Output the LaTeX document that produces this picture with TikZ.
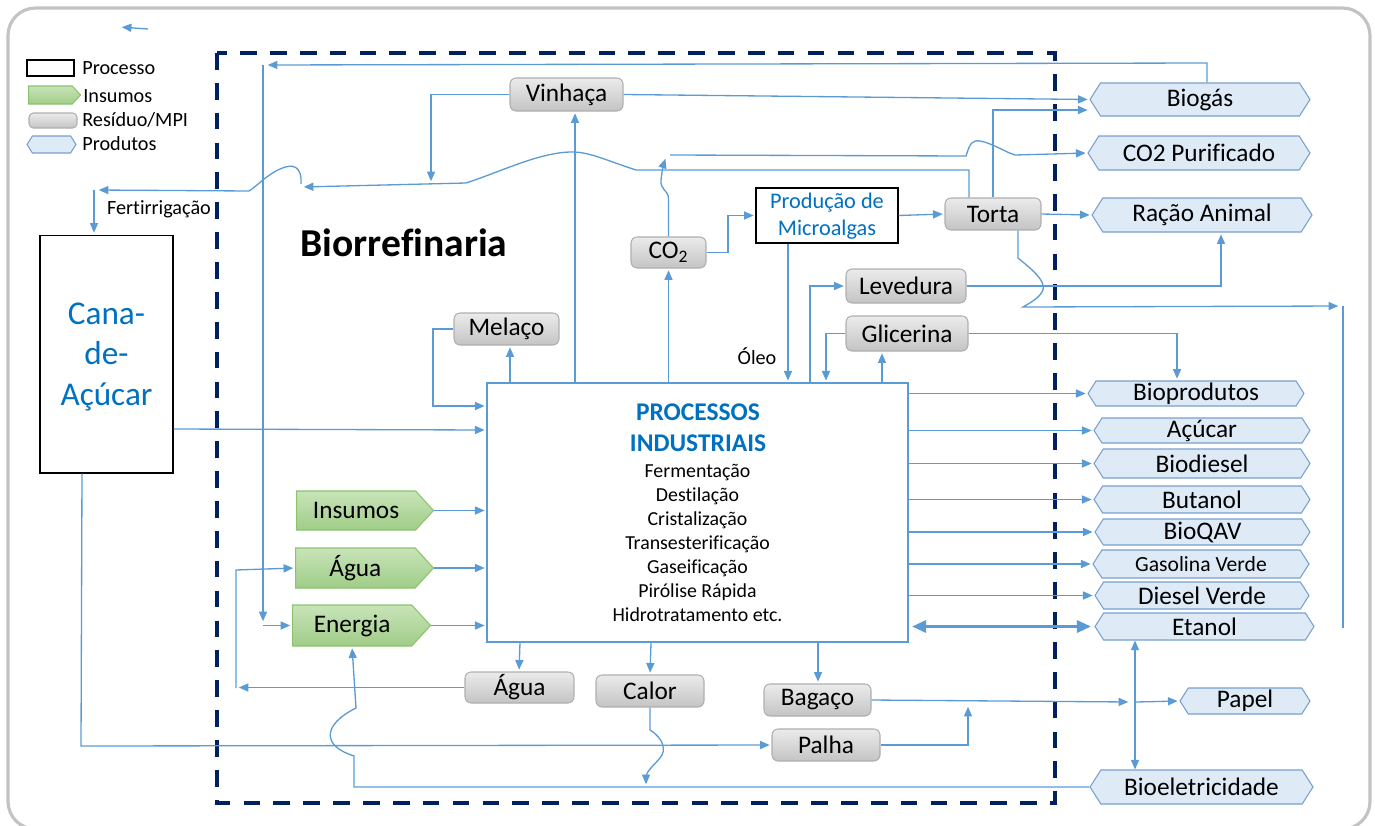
\documentclass[tikz,border=0pt]{standalone}
\usepackage{fontspec}
\setmainfont{Carlito}[Ligatures=NoCommon]
\usetikzlibrary{shapes.symbols,arrows.meta}
\definecolor{conblue}{RGB}{91,155,213}
\definecolor{txtblue}{RGB}{0,112,192}
\definecolor{navyblue}{RGB}{0,32,96}
\definecolor{prodfill}{RGB}{222,235,247}
\definecolor{prodline}{RGB}{120,160,205}
\definecolor{greentop}{RGB}{200,228,185}
\definecolor{greenbot}{RGB}{160,205,135}
\definecolor{greenline}{RGB}{140,195,110}
\definecolor{graytop}{RGB}{235,235,235}
\definecolor{graybot}{RGB}{196,196,196}
\definecolor{grayline}{RGB}{175,175,175}
\definecolor{framegray}{RGB}{195,195,195}
\newcommand\fsz[2]{\fontsize{#1}{#2}\selectfont}
\begin{document}
\begin{tikzpicture}[x=0.02cm,y=-0.02cm,
  con/.style={draw=conblue, line width=0.75pt},
  arr/.style={con, -{Triangle[length=5.5pt,width=4.6pt]}, shorten >=1pt},
  dbl/.style={con, {Triangle[length=5.5pt,width=4.6pt]}-{Triangle[length=5.5pt,width=4.6pt]}},
  dblthick/.style={draw=conblue, line width=1.5pt, {Triangle[length=8pt,width=7pt]}-{Triangle[length=8pt,width=7pt]}, shorten >=2pt, shorten <=2pt},
  resid/.style={rectangle, rounded corners=3.5pt, draw=grayline, line width=0.6pt, top color=graytop, bottom color=graybot, inner sep=0pt, font=\fsz{14.4}{16}},
  prod/.style={shape=signal, signal to=west and east, signal pointer angle=115, draw=prodline, line width=0.6pt, fill=prodfill, inner sep=0pt, font=\fsz{14.4}{16}},
  insumo/.style={shape=signal, signal to=east, signal pointer angle=95, draw=greenline, line width=0.6pt, top color=greentop, bottom color=greenbot, inner sep=0pt, font=\fsz{14.4}{16}, anchor=west},
  procbox/.style={rectangle, draw=black, line width=0.6pt, fill=white, inner sep=0pt},
  lbl/.style={inner sep=0pt, font=\fsz{11.5}{14}},
]
\useasboundingbox (0,0) rectangle (1375,825);
\clip (0,0) rectangle (1375,825);
\draw[draw=framegray, line width=1.8pt, rounded corners=0.55cm] (8,8) rectangle (1370,829);
\draw[draw=navyblue, line width=2.3pt, dash pattern=on 9.5pt off 7.5pt] (217,53) rectangle (1055,803);

% legend
\node[procbox, minimum width=0.94cm, minimum height=0.32cm] (lgproc) at (50.5,68) {};
\node[lbl, anchor=west] (lgproct) at (82,68) {Processo};
\node[insumo, minimum width=1.04cm, minimum height=0.36cm] (lgins) at (28,95) {};
\node[lbl, anchor=west] (lginst) at (83,96) {Insumos};
\node[resid, minimum width=0.96cm, minimum height=0.3cm, rounded corners=2.5pt] (lgres) at (53,120.5) {};
\node[lbl, anchor=west] (lgrest) at (82,120) {Resíduo/MPI};
\node[prod, minimum width=0.98cm, minimum height=0.34cm] (lgprod) at (51.5,144.5) {};
\node[lbl, anchor=west] (lgprodt) at (82,144) {Produtos};

\coordinate (sa) at (148,29); \coordinate (sb) at (120,27);
\draw[arr] (sa) -- (sb);

\node[inner sep=0pt, font=\fsz{22.5}{27}\bfseries] (bio) at (404,243) {Biorrefinaria};
\node[lbl] (fert) at (159,209) {Fertirrigação};

% main boxes
\node[procbox, minimum width=2.66cm, minimum height=4.76cm] (cana) at (106.5,354) {};
\node[inner sep=0pt, align=center, text=txtblue, font=\fsz{18.9}{23.3}] (canat) at (106.5,357) {Cana-\\de-\\Açúcar};

\node[rectangle, draw=conblue, line width=0.75pt, fill=white, minimum width=8.42cm, minimum height=5.18cm, inner sep=0pt] (proc) at (697.5,512.5) {};
\node[inner sep=0pt, align=center, text=txtblue, font=\fsz{14.5}{17.6}\bfseries] (proct) at (698,428) {PROCESSOS\\INDUSTRIAIS};
\node[inner sep=0pt, align=center, font=\fsz{11.3}{13.66}] (procl) at (697.5,543) {Fermentação\\Destilação\\Cristalização\\Transesterificação\\Gaseificação\\Pirólise Rápida\\Hidrotratamento etc.};

\node[procbox, minimum width=2.84cm, minimum height=1.1cm] (micro) at (827,215.5) {};
\node[inner sep=0pt, align=center, text=txtblue, font=\fsz{12.7}{15.4}] (microt) at (827,216) {Produção de\\Microalgas};

% residues
\node[resid, minimum width=2.26cm, minimum height=0.66cm] (vin) at (566.5,94.5) {Vinhaça};
\node[resid, minimum width=1.5cm, minimum height=0.62cm] (co2) at (668.5,252.5) {CO\textsubscript{2}};
\node[resid, minimum width=1.92cm, minimum height=0.64cm] (torta) at (993,214) {Torta};
\node[resid, minimum width=2.4cm, minimum height=0.68cm] (lev) at (906,286) {Levedura};
\node[resid, minimum width=2.44cm, minimum height=0.7cm] (glic) at (907,333.5) {Glicerina};
\node[resid, minimum width=2.1cm, minimum height=0.64cm] (mel) at (506.5,329) {Melaço};
\node[resid, minimum width=2.18cm, minimum height=0.62cm] (aguab) at (519.5,687.5) {Água};
\node[resid, minimum width=2.16cm, minimum height=0.64cm] (calor) at (650,691) {Calor};
\node[resid, minimum width=2.14cm, minimum height=0.64cm] (bag) at (817.5,700) {Bagaço};
\node[resid, minimum width=2.16cm, minimum height=0.64cm] (palha) at (826,745) {Palha};

% inputs
\node[insumo, minimum width=2.74cm, minimum height=0.78cm] (ins) at (296,510.5) {Insumos};
\node[insumo, minimum width=2.76cm, minimum height=0.8cm] (aguag) at (295,568) {Água};
\node[insumo, minimum width=2.76cm, minimum height=0.82cm] (energia) at (292,625.5) {Energia};

% products
\node[prod, minimum width=4.4cm, minimum height=0.66cm] (biogas) at (1200,99.5) {Biogás};
\node[prod, minimum width=4.44cm, minimum height=0.68cm] (co2p) at (1199,153) {CO2 Purificado};
\node[prod, minimum width=4.4cm, minimum height=0.68cm] (racao) at (1202,215) {Ração Animal};
\node[prod, minimum width=4.32cm, minimum height=0.5cm] (biop) at (1196,393.5) {Bioprodutos};
\node[prod, minimum width=4.32cm, minimum height=0.5cm] (acucar) at (1202,430.5) {Açúcar};
\node[prod, minimum width=4.32cm, minimum height=0.58cm] (biod) at (1202,463.5) {Biodiesel};
\node[prod, minimum width=4.32cm, minimum height=0.54cm] (but) at (1202,499.5) {Butanol};
\node[prod, minimum width=4.3cm, minimum height=0.52cm] (bioqav) at (1202.5,532) {BioQAV};
\node[prod, minimum width=4.32cm, minimum height=0.56cm, font=\fsz{12.3}{14}] (gasol) at (1201,564) {Gasolina Verde};
\node[prod, minimum width=4.28cm, minimum height=0.54cm] (diesel) at (1202,595.5) {Diesel Verde};
\node[prod, minimum width=4.38cm, minimum height=0.54cm] (etanol) at (1204.5,626.5) {Etanol};
\node[prod, minimum width=2.6cm, minimum height=0.52cm] (papel) at (1245,701) {Papel};
\node[prod, minimum width=4.46cm, minimum height=0.68cm] (bioel) at (1201.5,787) {Bioeletricidade};

% connectors: vinhaca
\draw[arr] (575,0 |- proc.north) -- (575,0 |- vin.south);
\draw[arr] (vin.east) -- (biogas.west);
\coordinate (vinf) at (431,183);
\draw[arr] (vin.west) -| (vinf);
% fertirrigacao
\coordinate (fertend) at (302,187);
\draw[arr] (969,0 |- torta.north) -- (969,170) -- (636,170) .. controls (605,160) and (590,152) .. (572,152) .. controls (540,152) and (500,172) .. (466,183) -- (fertend);
\coordinate (fertL) at (97,190);
\draw[arr] (301,184) .. controls (302,166) and (293,163) .. (280,169) .. controls (265,176) and (256,187) .. (249,191) -- (fertL);
\draw[arr] (94,190) -- (94,0 |- cana.north);
% biogas loop
\draw[arr] (1207,0 |- biogas.north) -- (1207,63) -- (266,65);
\draw[arr] (263,65) -- (263,623);
\draw[arr] (263,0 |- energia.west) -- (energia.west);
% co2
\draw[arr] (668.5,0 |- proc.north) -- (co2.south);
\draw[arr] (co2.north) -- (668.5,198) .. controls (668,190) and (660,190) .. (661,180) .. controls (662,170) and (664,163) .. (666,157);
\draw[arr] (670,155) -- (966,156) .. controls (970,143) and (972,140) .. (980,141) .. controls (992,143) and (1005,152) .. (1015,155) -- (co2p.west);
\draw[arr] (co2.east) -- (728,0 |- co2.east) |- (micro.west);
\draw[arr] (micro.east) -- (torta.west);
\draw[arr] (788,0 |- micro.south) -- (788,0 |- proc.north);
\node[lbl] (oleo) at (757,356) {Óleo};
% torta
\draw[arr] (torta.east) -- (racao.west);
\draw[arr] (torta.north) -- (993,110) -- (biogas.west |- 0,110);
\draw[arr] (1018,0 |- torta.south) -- (1018,258) .. controls (1030,268) and (1046,280) .. (1043,290) .. controls (1040,298) and (1028,304) .. (1023,307) -- (1340,306);
\draw[con] (1343,306) -- (1343,628);
% levedura, glicerina, melaco
\draw[arr] (810,0 |- proc.north) |- (lev.west);
\draw[arr] (lev.east) -| (1221,0 |- racao.south);
\draw[arr] (882,0 |- proc.north) -- (882,0 |- glic.south);
\draw[arr] (glic.west) -| (826,0 |- proc.north);
\draw[arr] (glic.east) -| (1177,0 |- biop.north);
\draw[arr] (510,0 |- proc.north) -- (510,0 |- mel.south);
\draw[arr] (mel.west) -| (433,406) -- (proc.west |- 0,406);
% cana
\draw[arr] (cana.east |- 0,429) -- (proc.west |- 0,430);
\draw[arr] (82,0 |- cana.south) -- (81,746) -- (palha.west);
% inputs
\draw[arr] (ins.east) -- (proc.west |- ins.east);
\draw[arr] (aguag.east) -- (proc.west |- aguag.east);
\draw[arr] (energia.east) -- (proc.west |- energia.east);
\draw[arr] (aguab.west) -- (237,0 |- aguab.west);
\draw[arr] (236,688) -- (236,570) -- (aguag.west);
\draw[arr] (bioel.west) -- (354,0 |- bioel.west) -- (354,756) .. controls (322,746) and (322,725) .. (356,708) -- (352,0 |- energia.south);
% bottom
\draw[arr] (calor.south) -- (650,730) .. controls (663,738) and (667,750) .. (660,758) .. controls (654,765) and (647,771) .. (646,776) -- (646,786);
\draw[arr] (520,0 |- proc.south) -- (519,0 |- aguab.north);
\draw[arr] (651,0 |- proc.south) -- (650,0 |- calor.north);
\draw[arr] (818,0 |- proc.south) -- (818,0 |- bag.north);
\draw[arr] (bag.east) -- (1130,702);
\draw[arr] (1136,702) -- (papel.west);
\draw[arr] (palha.east) -| (968,705);
% etanol
\draw[dblthick] (proc.east |- etanol.west) -- (etanol.west);
\draw[dbl] (1135,0 |- etanol.south) -- (1135,0 |- bioel.north);
% products
\foreach \n in {biop,acucar,biod,but,bioqav,gasol,diesel} \draw[arr] (proc.east |- \n.west) -- (\n.west);
\end{tikzpicture}
\end{document}
